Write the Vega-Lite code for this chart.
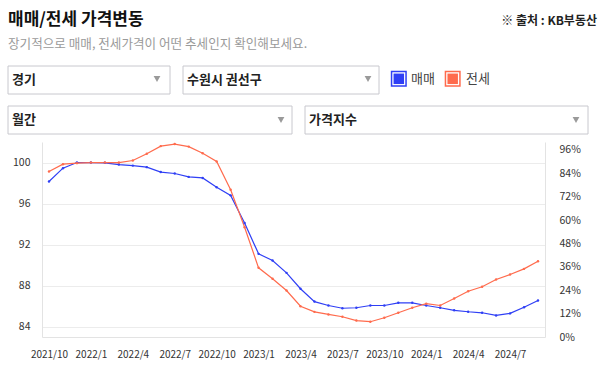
{
  "$schema": "https://vega.github.io/schema/vega-lite/v6.json",
  "width": 503,
  "height": 195,
  "autosize": {"type": "none"},
  "padding": {"left": 42, "top": 142, "right": 58, "bottom": 28},
  "background": "white",
  "config": {
    "font": "Noto Sans CJK KR",
    "view": {"stroke": null},
    "axis": {"labelFont": "Noto Sans CJK KR", "labelFontSize": 10.5, "labelColor": "#333333"}
  },
  "datasets": {
    "price": [
      {"month": "2021/10", "매매": 98.15, "전세": 99.13},
      {"month": "2021/11", "매매": 99.45, "전세": 99.84},
      {"month": "2021/12", "매매": 100.0, "전세": 99.94},
      {"month": "2022/1", "매매": 100.0, "전세": 100.0},
      {"month": "2022/2", "매매": 99.97, "전세": 100.0},
      {"month": "2022/3", "매매": 99.8, "전세": 100.0},
      {"month": "2022/4", "매매": 99.7, "전세": 100.2},
      {"month": "2022/5", "매매": 99.55, "전세": 100.85},
      {"month": "2022/6", "매매": 99.07, "전세": 101.6},
      {"month": "2022/7", "매매": 98.93, "전세": 101.8},
      {"month": "2022/8", "매매": 98.6, "전세": 101.55},
      {"month": "2022/9", "매매": 98.5, "전세": 100.9},
      {"month": "2022/10", "매매": 97.6, "전세": 100.1},
      {"month": "2022/11", "매매": 96.8, "전세": 97.35},
      {"month": "2022/12", "매매": 94.1, "전세": 93.7},
      {"month": "2023/1", "매매": 91.1, "전세": 89.74},
      {"month": "2023/2", "매매": 90.45, "전세": 88.67},
      {"month": "2023/3", "매매": 89.25, "전세": 87.53},
      {"month": "2023/4", "매매": 87.7, "전세": 86.0},
      {"month": "2023/5", "매매": 86.45, "전세": 85.45},
      {"month": "2023/6", "매매": 86.07, "전세": 85.2},
      {"month": "2023/7", "매매": 85.8, "전세": 84.97},
      {"month": "2023/8", "매매": 85.85, "전세": 84.6},
      {"month": "2023/9", "매매": 86.07, "전세": 84.49},
      {"month": "2023/10", "매매": 86.07, "전세": 84.88},
      {"month": "2023/11", "매매": 86.33, "전세": 85.36},
      {"month": "2023/12", "매매": 86.33, "전세": 85.85},
      {"month": "2024/1", "매매": 86.07, "전세": 86.25},
      {"month": "2024/2", "매매": 85.85, "전세": 86.07},
      {"month": "2024/3", "매매": 85.6, "전세": 86.75},
      {"month": "2024/4", "매매": 85.46, "전세": 87.46},
      {"month": "2024/5", "매매": 85.36, "전세": 87.89},
      {"month": "2024/6", "매매": 85.1, "전세": 88.6},
      {"month": "2024/7", "매매": 85.3, "전세": 89.09},
      {"month": "2024/8", "매매": 85.9, "전세": 89.64},
      {"month": "2024/9", "매매": 86.56, "전세": 90.38}
    ]
  },
  "layer": [
    {
      "data": {"values": [
        {"px": 8, "px2": 170, "py": 66, "py2": 94},
        {"px": 183, "px2": 379, "py": 66, "py2": 94},
        {"px": 8, "px2": 292, "py": 106, "py2": 134},
        {"px": 305, "px2": 588, "py": 106, "py2": 134}
      ]},
      "mark": {"type": "rect", "fill": "white", "stroke": "#c8c8ce", "strokeWidth": 1},
      "encoding": {
        "x": {"field": "px", "type": "quantitative", "scale": {"domain": [42, 545], "nice": false, "zero": false}, "axis": null},
        "x2": {"field": "px2"},
        "y": {"field": "py", "type": "quantitative", "scale": {"domain": [142, 337], "nice": false, "zero": false, "reverse": true}, "axis": null},
        "y2": {"field": "py2"}
      }
    },
    {
      "data": {"values": [
        {"px": 157, "py": 79},
        {"px": 368, "py": 79},
        {"px": 281, "py": 120},
        {"px": 576, "py": 120}
      ]},
      "mark": {"type": "point", "shape": "triangle-down", "filled": true, "size": 45, "color": "#9a9a9a", "opacity": 1},
      "encoding": {
        "x": {"field": "px", "type": "quantitative", "scale": {"domain": [42, 545], "nice": false, "zero": false}, "axis": null},
        "y": {"field": "py", "type": "quantitative", "scale": {"domain": [142, 337], "nice": false, "zero": false, "reverse": true}, "axis": null}
      }
    },
    {
      "data": {"values": [
        {"type": "매매", "px": 398.8, "py": 78.8},
        {"type": "전세", "px": 452.7, "py": 78.8}
      ]},
      "mark": {"type": "point", "shape": "square", "filled": false, "size": 210, "strokeWidth": 1.5, "opacity": 1},
      "encoding": {
        "x": {"field": "px", "type": "quantitative", "scale": {"domain": [42, 545], "nice": false, "zero": false}, "axis": null},
        "y": {"field": "py", "type": "quantitative", "scale": {"domain": [142, 337], "nice": false, "zero": false, "reverse": true}, "axis": null},
        "color": {"field": "type", "type": "nominal", "scale": {"domain": ["매매", "전세"], "range": ["#2f3ff5", "#ff6b4d"]}, "legend": null}
      }
    },
    {
      "data": {"values": [
        {"type": "매매", "px": 398.8, "py": 78.8},
        {"type": "전세", "px": 452.7, "py": 78.8}
      ]},
      "mark": {"type": "point", "shape": "square", "filled": true, "size": 110, "opacity": 1},
      "encoding": {
        "x": {"field": "px", "type": "quantitative", "scale": {"domain": [42, 545], "nice": false, "zero": false}, "axis": null},
        "y": {"field": "py", "type": "quantitative", "scale": {"domain": [142, 337], "nice": false, "zero": false, "reverse": true}, "axis": null},
        "color": {"field": "type", "type": "nominal", "scale": {"domain": ["매매", "전세"], "range": ["#2f3ff5", "#ff6b4d"]}, "legend": null}
      }
    },
    {
      "data": {"values": [{"text": "매매/전세 가격변동", "px": 8, "py": 20}]},
      "mark": {"type": "text", "align": "left", "baseline": "middle", "fontSize": 17, "fontWeight": "bold", "color": "#111111"},
      "encoding": {
        "x": {"field": "px", "type": "quantitative", "scale": {"domain": [42, 545], "nice": false, "zero": false}, "axis": null},
        "y": {"field": "py", "type": "quantitative", "scale": {"domain": [142, 337], "nice": false, "zero": false, "reverse": true}, "axis": null},
        "text": {"field": "text"}
      }
    },
    {
      "data": {"values": [{"text": "※ 출처 : KB부동산", "px": 597, "py": 21}]},
      "mark": {"type": "text", "align": "right", "baseline": "middle", "fontSize": 12, "fontWeight": "bold", "color": "#222222"},
      "encoding": {
        "x": {"field": "px", "type": "quantitative", "scale": {"domain": [42, 545], "nice": false, "zero": false}, "axis": null},
        "y": {"field": "py", "type": "quantitative", "scale": {"domain": [142, 337], "nice": false, "zero": false, "reverse": true}, "axis": null},
        "text": {"field": "text"}
      }
    },
    {
      "data": {"values": [{"text": "장기적으로 매매, 전세가격이 어떤 추세인지 확인해보세요.", "px": 8, "py": 44}]},
      "mark": {"type": "text", "align": "left", "baseline": "middle", "fontSize": 12.6, "color": "#9a9a9a"},
      "encoding": {
        "x": {"field": "px", "type": "quantitative", "scale": {"domain": [42, 545], "nice": false, "zero": false}, "axis": null},
        "y": {"field": "py", "type": "quantitative", "scale": {"domain": [142, 337], "nice": false, "zero": false, "reverse": true}, "axis": null},
        "text": {"field": "text"}
      }
    },
    {
      "data": {"values": [
        {"text": "경기", "px": 12, "py": 80},
        {"text": "수원시 권선구", "px": 187, "py": 80},
        {"text": "월간", "px": 12, "py": 120},
        {"text": "가격지수", "px": 309, "py": 120}
      ]},
      "mark": {"type": "text", "align": "left", "baseline": "middle", "fontSize": 13, "fontWeight": "bold", "color": "#222222"},
      "encoding": {
        "x": {"field": "px", "type": "quantitative", "scale": {"domain": [42, 545], "nice": false, "zero": false}, "axis": null},
        "y": {"field": "py", "type": "quantitative", "scale": {"domain": [142, 337], "nice": false, "zero": false, "reverse": true}, "axis": null},
        "text": {"field": "text"}
      }
    },
    {
      "data": {"values": [
        {"text": "매매", "px": 411, "py": 79},
        {"text": "전세", "px": 466, "py": 79}
      ]},
      "mark": {"type": "text", "align": "left", "baseline": "middle", "fontSize": 13, "color": "#444444"},
      "encoding": {
        "x": {"field": "px", "type": "quantitative", "scale": {"domain": [42, 545], "nice": false, "zero": false}, "axis": null},
        "y": {"field": "py", "type": "quantitative", "scale": {"domain": [142, 337], "nice": false, "zero": false, "reverse": true}, "axis": null},
        "text": {"field": "text"}
      }
    },
    {
      "data": {"values": [{}]},
      "mark": {"type": "point", "opacity": 0},
      "encoding": {
        "y": {"datum": 0, "type": "quantitative", "scale": {"domain": [0, 1], "nice": false, "zero": false},
          "axis": {"orient": "right", "format": ".0%", "values": [0, 0.12, 0.24, 0.36, 0.48, 0.6, 0.72, 0.84, 0.96], "grid": false, "ticks": false, "domainColor": "#e3e3e3", "labelPadding": 14, "title": null}}
      }
    },
    {
      "data": {"name": "price"},
      "transform": [{"fold": ["매매", "전세"], "as": ["type", "value"]}],
      "mark": {"type": "line", "strokeWidth": 1.2, "point": {"filled": true, "size": 6}},
      "encoding": {
        "x": {"field": "month", "type": "ordinal", "sort": null, "scale": {"type": "point", "padding": 0.5},
          "axis": {"values": ["2021/10", "2022/1", "2022/4", "2022/7", "2022/10", "2023/1", "2023/4", "2023/7", "2023/10", "2024/1", "2024/4", "2024/7"], "labelAngle": 0, "labelFontSize": 10, "ticks": false, "grid": false, "domainColor": "#e3e3e3", "labelPadding": 12, "title": null}},
        "y": {"field": "value", "type": "quantitative", "scale": {"domain": [83, 102], "nice": false, "zero": false},
          "axis": {"orient": "left", "values": [84, 88, 92, 96, 100], "grid": true, "gridColor": "#ececec", "ticks": false, "domainColor": "#e3e3e3", "labelPadding": 12, "title": null}},
        "color": {"field": "type", "type": "nominal", "scale": {"domain": ["매매", "전세"], "range": ["#2f3ff5", "#ff6b4d"]}, "legend": null}
      }
    }
  ],
  "resolve": {"scale": {"x": "independent", "y": "independent", "color": "independent"}}
}
